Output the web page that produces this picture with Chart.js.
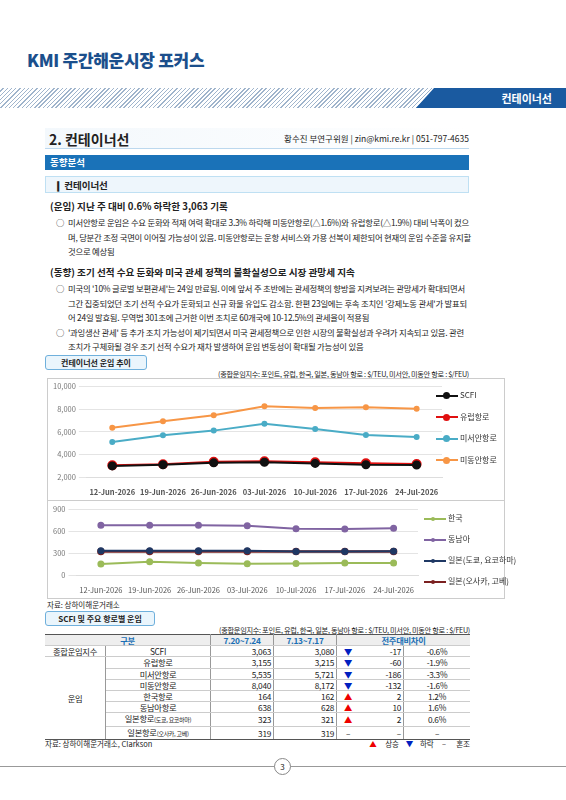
<!DOCTYPE html>
<html><head><meta charset="utf-8">
<script src="https://cdn.jsdelivr.net/npm/chart.js@4"></script>
<style>
body{margin:0;width:566px;height:800px;background:#fff;font-family:"Noto Sans CJK KR","Noto Sans",sans-serif;color:#222;position:relative;overflow:hidden}
.abs{position:absolute}
.hdr{left:27px;top:47px;font-size:17px;font-weight:900;color:#1b4f8c;letter-spacing:-0.3px}
.band{left:0;top:88px;width:566px;height:20px;background:repeating-linear-gradient(135deg,#fff 0 2px,#9fb4cc 2px 3px)}
.tag{right:0;top:88px;width:150px;height:20px;background:#1a5aa0;clip-path:polygon(12% 0,100% 0,100% 100%,0 100%);color:#fff;font-size:11px;font-weight:bold;text-align:right;padding-right:14px;box-sizing:border-box;line-height:20px}
.sec{left:45px;top:128px;width:424px;height:20px;border-bottom:1px solid #bcd8ee;background:linear-gradient(90deg,#f3f8fc,#fff)}
.sec b{font-size:14px;position:absolute;left:4px;top:1px}
.sec span{position:absolute;right:0;top:4px;font-size:8.5px}
.bar1{left:45px;top:155px;width:424px;height:15px;background:#1a72b8;color:#fff;font-size:9.5px;font-weight:bold;line-height:15px;padding-left:5px;box-sizing:border-box}
.bar2{left:45px;top:176px;width:424px;height:17px;background:#eef6fc;border:1px solid #bfe0f3;font-size:9.5px;font-weight:bold;line-height:16px;padding-left:8px;box-sizing:border-box}
.h{font-size:9.6px;font-weight:bold;left:50px}
.p{font-size:8.4px;left:56px;width:416px;line-height:14.5px;letter-spacing:-0.25px}
.p i{font-style:normal;position:absolute;left:0}
.p div{padding-left:12px;position:relative}
.btn{left:45px;width:100px;height:13px;border:1px solid #6fb0dc;border-radius:3px;background:#eaf5fc;font-size:8px;font-weight:bold;text-align:center;line-height:13px}
.note{font-size:7.2px;right:97px;letter-spacing:-0.3px}
.box{left:47px;width:458px;border:1px solid #ccc;box-sizing:border-box}
table{border-collapse:collapse;font-size:8.3px;letter-spacing:-0.3px}
td{height:10.2px;padding:0 2px;line-height:10.2px;border-bottom:1px solid #ccc;white-space:nowrap}
.src{font-size:7.5px}
.lg{font-size:8px;color:#333;white-space:nowrap}
.lg i{display:inline-block;width:22px;height:2px;vertical-align:middle;margin-right:2px;position:relative}
.lg i b{position:absolute;left:7px;top:-3px;width:8px;height:8px;border-radius:50%}
</style></head><body>
<div class="abs hdr">KMI 주간해운시장 포커스</div>
<div class="abs band"></div>
<div class="abs tag">컨테이너선</div>
<div class="abs sec"><b>2. 컨테이너선</b><span>황수진 부연구위원 | zin@kmi.re.kr | 051-797-4635</span></div>
<div class="abs bar1">동향분석</div>
<div class="abs bar2">❙ 컨테이너선</div>
<div class="abs h" style="top:199px">(운임) 지난 주 대비 0.6% 하락한 3,063 기록</div>
<div class="abs p" style="top:215px"><div><i>○</i>미서안항로 운임은 수요 둔화와 적재 여력 확대로 3.3% 하락해 미동안항로(△1.6%)와 유럽항로(△1.9%) 대비 낙폭이 컸으며, 당분간 조정 국면이 이어질 가능성이 있음. 미동안항로는 운항 서비스와 가용 선복이 제한되어 현재의 운임 수준을 유지할 것으로 예상됨</div></div>
<div class="abs h" style="top:265px">(동향) 조기 선적 수요 둔화와 미국 관세 정책의 불확실성으로 시장 관망세 지속</div>
<div class="abs p" style="top:281px"><div><i>○</i>미국의 '10% 글로벌 보편관세'는 24일 만료됨. 이에 앞서 주 초반에는 관세정책의 향방을 지켜보려는 관망세가 확대되면서 그간 집중되었던 조기 선적 수요가 둔화되고 신규 화물 유입도 감소함. 한편 23일에는 후속 조치인 '강제노동 관세'가 발표되어 24일 발효됨. 무역법 301조에 근거한 이번 조치로 60개국에 10-12.5%의 관세율이 적용됨</div><div><i>○</i>'과잉생산 관세' 등 추가 조치 가능성이 제기되면서 미국 관세정책으로 인한 시장의 불확실성과 우려가 지속되고 있음. 관련 조치가 구체화될 경우 조기 선적 수요가 재차 발생하여 운임 변동성이 확대될 가능성이 있음</div></div>
<div class="abs btn" style="top:355px">컨테이너선 운임 추이</div>
<div class="abs note" style="top:369px">(종합운임지수: 포인트, 유럽, 한국, 일본, 동남아 항로 : $/TEU, 미서안, 미동안 항로 : $/FEU)</div>
<div class="abs box" style="top:378px;height:123px"><canvas id="c1"></canvas></div>
<div class="abs box" style="top:500px;height:99px;border-top:none"><canvas id="c2"></canvas></div>
<div id="lg1"></div><div id="lg2"></div>
<div class="abs src" style="left:47px;top:599px">자료: 상하이해운거래소</div>
<div class="abs btn" style="top:611px;width:108px">SCFI 및 주요 항로별 운임</div>
<div class="abs note" style="top:625px;right:96px">(종합운임지수: 포인트, 유럽, 한국, 일본, 동남아 항로 : $/TEU, 미서안, 미동안 항로 : $/FEU)</div>
<div class="abs" style="left:45px;top:634px;width:425px" id="tbl"></div>
<div class="abs src" style="left:45px;top:738px;width:425px">자료: 상하이해운거래소, Clarkson<span style="position:absolute;right:0"><span style="color:#e00">▲</span>&nbsp;&nbsp;&nbsp;&nbsp; 상승 &nbsp;&nbsp;&nbsp;<span style="color:#0020c0">▼</span>&nbsp;&nbsp;&nbsp; 하락 &nbsp;&nbsp;&nbsp; – &nbsp;&nbsp;&nbsp;&nbsp; 혼조</span></div>
<div class="abs" style="left:0;top:766px;width:566px;border-top:1px solid #999"></div>
<div class="abs" style="left:274px;top:758px;width:15px;height:15px;border:1px solid #888;border-radius:50%;background:#fff;font-size:8px;text-align:center;line-height:15px">3</div>
<script>
const dates=["12-Jun-2026","19-Jun-2026","26-Jun-2026","03-Jul-2026","10-Jul-2026","17-Jul-2026","24-Jul-2026"];
const scfi=[2980,3080,3250,3300,3200,3080,3063];
const europe=[3030,3130,3340,3390,3300,3215,3155];
const usWest=[5100,5700,6100,6700,6250,5721,5535];
const usEast=[6350,6930,7450,8250,8100,8172,8040];
const korea=[150,180,165,155,157,162,164];
const seAsia=[680,680,680,670,630,628,638];
const japanTokyo=[330,330,330,330,320,321,323];
const japanOsaka=[320,320,320,320,319,319,319];
const topTicks=[2000,4000,6000,8000,10000];
const botTicks=[0,300,600,900];
const rows=[["종합운임지수","SCFI",3063,3080],["운임","유럽항로",3155,3215],["","미서안항로",5535,5721],["","미동안항로",8040,8172],["","한국항로",164,162],["","동남아항로",638,628],["","일본항로<small style='font-size:6px'>(도쿄, 요코하마)</small>",323,321],["","일본항로<small style='font-size:6px'>(오사카, 고베)</small>",319,319]];

let h='<table style="width:100%"><tr style="background:#eee;color:#1a6fb5;font-weight:bold;border-top:1.5px solid #555"><td colspan=2 style="text-align:center;border-right:1px solid #999">구분</td><td style="text-align:center;border-right:1px solid #999;width:58px">7.20~7.24</td><td style="text-align:center;border-right:1px solid #999;width:58px">7.13~7.17</td><td colspan=3 style="text-align:center">전주대비차이</td></tr>';
rows.forEach((r,i)=>{const d=r[2]-r[3];const pct=(d/r[3]*100).toFixed(1);
const arrow=d>0?'<span style="color:#e00">▲</span>':d<0?'<span style="color:#0020c0">▼</span>':'–';
const f=x=>x.toLocaleString('en-US');
let first='';
if(i==0)first='<td style="width:56px;text-align:center;border-right:1px solid #999">'+r[0]+'</td>';
else if(i==1)first='<td rowspan=7 style="text-align:center;border-right:1px solid #999;border-bottom:1.5px solid #555">운임</td>';
const last=i==7?'border-bottom:1.5px solid #555;':'';
h+='<tr>'+first+'<td style="text-align:center;border-right:1px solid #999;'+last+'">'+r[1]+'</td><td style="text-align:right;border-right:1px solid #999;'+last+'">'+f(r[2])+'</td><td style="text-align:right;border-right:1px solid #999;'+last+'">'+f(r[3])+'</td><td style="width:18px;text-align:center;'+last+'">'+arrow+'</td><td style="text-align:right;width:40px;border-right:1px solid #999;'+last+'">'+(d==0?'–':d)+'</td><td style="text-align:center;width:62px;'+last+'">'+(d==0?'–':pct+'%')+'</td></tr>';});
document.getElementById('tbl').innerHTML=h+'</table>';

Chart.defaults.font.family='"Noto Sans CJK KR",sans-serif';
Chart.defaults.animation=false;
function ds(label,data,color,w,r){return {label,data,borderColor:color,backgroundColor:color,borderWidth:w,pointRadius:r,pointHoverRadius:r};}
function opts(min,max,ticks,bold,padR,padT){return {responsive:true,maintainAspectRatio:false,layout:{padding:{left:2,right:padR,top:padT,bottom:0}},
plugins:{legend:{display:false}},
scales:{x:{offset:true,grid:{display:false},border:{color:'#ddd'},ticks:{color:'#555',font:{size:7.5,weight:bold?'bold':'normal'},maxRotation:0,autoSkip:false}},
y:{min,max,afterBuildTicks:a=>{a.ticks=ticks.map(v=>({value:v}))},grid:{color:'#e4e4e4'},border:{display:false},ticks:{color:'#777',font:{size:7.5}}}}};}
function legend(id,chart,left,top,gap,dot){const el=document.getElementById(id);
chart.data.datasets.forEach((d,i)=>{el.innerHTML+='<div class="abs lg" style="left:'+left+'px;top:'+(top+i*gap)+'px"><i style="background:'+d.borderColor+'"><b style="background:'+d.borderColor+';width:'+dot+'px;height:'+dot+'px;top:'+(1-dot/2)+'px"></b></i>'+d.label+'</div>';});}
const c1=new Chart(document.getElementById('c1'),{type:'line',data:{labels:dates,datasets:[
ds('SCFI',scfi,'#111',2,3.5),ds('유럽항로',europe,'#e01010',2,4),ds('미서안항로',usWest,'#4aacc6',2,2),ds('미동안항로',usEast,'#f79646',2,2)]},options:opts(2000,10000,topTicks,true,62,2)});
const c2=new Chart(document.getElementById('c2'),{type:'line',data:{labels:dates,datasets:[
ds('한국',korea,'#9bbb59',2,2.5),ds('동남아',seAsia,'#8064a2',2,2.5),ds('일본(도쿄, 요코하마)',japanTokyo,'#1f3864',2,2.5),ds('일본(오사카, 고베)',japanOsaka,'#7b2020',2.5,2.5)]},options:opts(0,900,botTicks,false,86,9)});
legend('lg1',c1,436,389,21.5,7);legend('lg2',c2,424,512,21,4);
</script></body></html>
